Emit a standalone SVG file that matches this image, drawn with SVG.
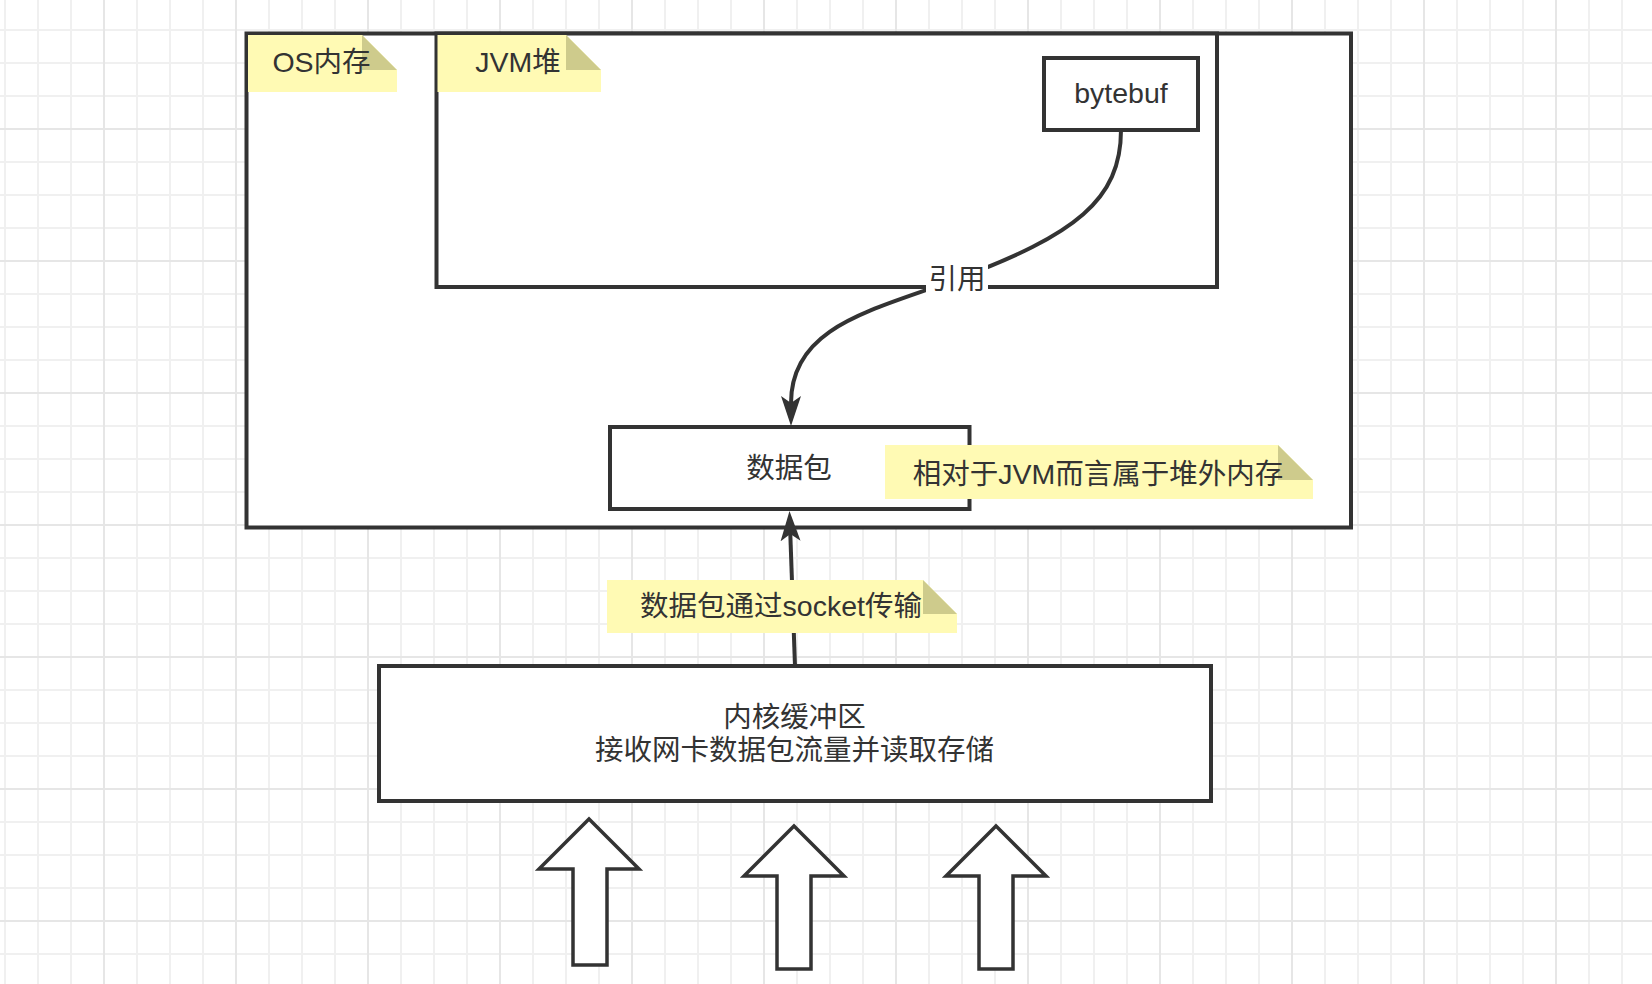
<svg xmlns="http://www.w3.org/2000/svg" width="1652" height="984" viewBox="0 0 1652 984">
  <defs>
    <pattern id="grid" x="4" y="29" width="132" height="132" patternUnits="userSpaceOnUse">
      <rect x="0" y="0" width="2" height="132" fill="#F0F0F0"/>
      <rect x="33" y="0" width="2" height="132" fill="#F0F0F0"/>
      <rect x="66" y="0" width="2" height="132" fill="#F0F0F0"/>
      <rect x="0" y="0" width="132" height="2" fill="#F0F0F0"/>
      <rect x="0" y="33" width="132" height="2" fill="#F0F0F0"/>
      <rect x="0" y="66" width="132" height="2" fill="#F0F0F0"/>
      <rect x="99" y="0" width="2" height="132" fill="#E6E6E6"/>
      <rect x="0" y="99" width="132" height="2" fill="#E6E6E6"/>
    </pattern>
    <marker id="arrow" markerUnits="userSpaceOnUse" viewBox="0 0 30 22" refX="7" refY="11" markerWidth="30" markerHeight="22" orient="auto">
      <path d="M0,1 L30,11 L0,21 L7,11 Z" fill="#333333"/>
    </marker>
    <style>
      .box { fill: #FFFFFF; stroke: #333333; stroke-width: 4; }
      .txt { font-family: "Liberation Sans", "Noto Sans CJK SC", sans-serif; font-size: 28.5px; fill: #333333; text-anchor: middle; }
      .note { fill: #FFFAB4; stroke: none; }
      .fold { fill: #CECB8C; stroke: none; }
      .edge { fill: none; stroke: #333333; stroke-width: 4; }
      .bigarrow { fill: #FFFFFF; stroke: #333333; stroke-width: 3.5; }
    </style>
  </defs>

  <rect x="0" y="0" width="1652" height="984" fill="#FFFFFF"/>
  <rect x="0" y="0" width="1652" height="984" fill="url(#grid)"/>

  <g id="os-memory">
    <rect class="box" x="246.5" y="33.5" width="1104.5" height="494" fill="none"/>
  </g>

  <g id="jvm-heap">
    <rect class="box" x="436.5" y="33.5" width="780.5" height="253.5"/>
  </g>

  <g id="bytebuf">
    <rect class="box" x="1044" y="58" width="154" height="72"/>
    <text class="txt" x="1121" y="103">bytebuf</text>
  </g>

  <g id="packet">
    <rect class="box" x="610" y="427" width="359.5" height="82"/>
    <text class="txt" x="789" y="478">数据包</text>
  </g>

  <g id="kernel-buffer">
    <rect class="box" x="379" y="666" width="832" height="135"/>
    <text class="txt" x="794.5" y="727">内核缓冲区</text>
    <text class="txt" x="794.5" y="760">接收网卡数据包流量并读取存储</text>
  </g>

  <g id="connectors">
    <path class="edge" d="M1121,130 C1121,200 1075,235 957,279 C875,310 791,325 791,403" marker-end="url(#arrow)"/>
    <path class="edge" d="M795,666 L790.3,534" marker-end="url(#arrow)"/>
    <g id="label-ref">
      <rect x="926" y="264" width="62" height="30" fill="#FFFFFF"/>
      <text class="txt" x="957" y="289">引用</text>
    </g>
  </g>

  <g id="note-os">
    <polygon class="note" points="248,35 362,35 397,70 397,92 248,92"/>
    <polygon class="fold" points="362,35 362,70 397,70"/>
    <text class="txt" x="321.5" y="72">OS内存</text>
  </g>

  <g id="note-jvm">
    <polygon class="note" points="437.5,35 566,35 601,70 601,92 437.5,92"/>
    <polygon class="fold" points="566,35 566,70 601,70"/>
    <text class="txt" x="518" y="72">JVM堆</text>
  </g>

  <g id="note-offheap">
    <polygon class="note" points="885,445 1278,445 1313,480 1313,499 885,499"/>
    <polygon class="fold" points="1278,445 1278,480 1313,480"/>
    <text class="txt" x="1098" y="484">相对于JVM而言属于堆外内存</text>
  </g>

  <g id="note-socket">
    <polygon class="note" points="607,580 923,580 957,614 957,633 607,633"/>
    <polygon class="fold" points="923,580 923,614 957,614"/>
    <text class="txt" x="781" y="616">数据包通过socket传输</text>
  </g>

  <g id="input-arrow-1">
    <polygon class="bigarrow" points="589,819 639,869 607,869 607,965 573,965 573,869 539,869"/>
  </g>
  <g id="input-arrow-2">
    <polygon class="bigarrow" points="794,826 844,876 811,876 811,969 777,969 777,876 744,876"/>
  </g>
  <g id="input-arrow-3">
    <polygon class="bigarrow" points="996,826 1046,876 1013,876 1013,969 979,969 979,876 946,876"/>
  </g>
</svg>
